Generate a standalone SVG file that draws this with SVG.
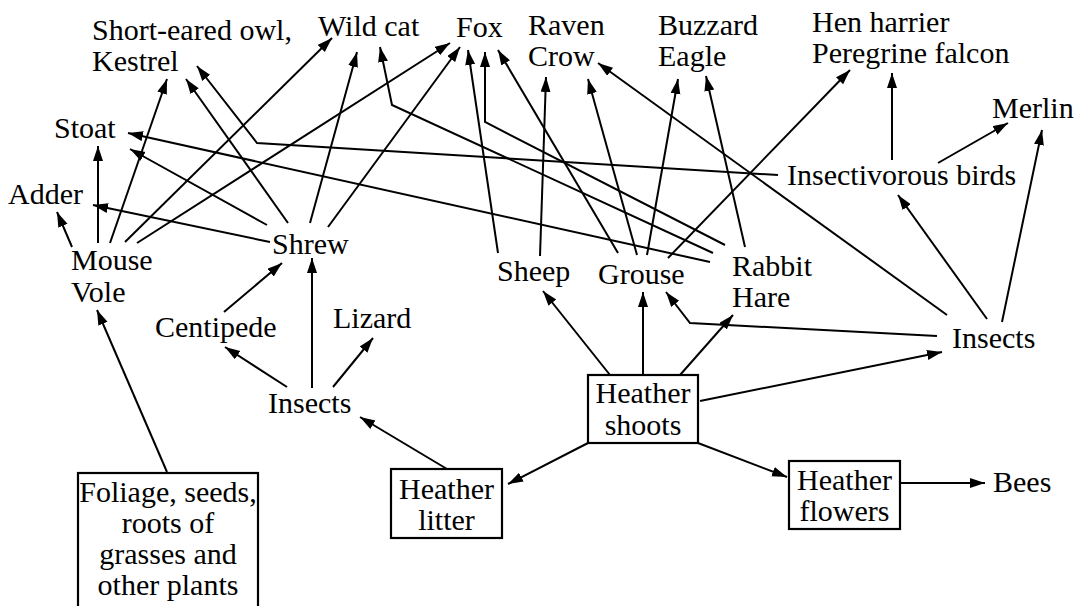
<svg xmlns="http://www.w3.org/2000/svg" width="1075" height="606" viewBox="0 0 1075 606">
<style>
text{font-family:'Liberation Serif','Times New Roman',serif;font-size:30px;fill:#000}
.c{text-anchor:middle}
.box{fill:#fff;stroke:#000;stroke-width:2.2}
#connectors path{fill:none;stroke:#000;stroke-width:2;marker-end:url(#arr)}
</style>
<defs>
<marker id="arr" markerUnits="userSpaceOnUse" markerWidth="16" markerHeight="11" refX="15" refY="5" orient="auto">
<path d="M0,0 L15,5 L0,10 z" fill="#000"/>
</marker>
</defs>
<rect width="1075" height="606" fill="#fff"/>
<g id="connectors">
<path d="M167,472 L97,310"/>
<path d="M72,247 L57,212"/>
<path d="M98,243 L98,146"/>
<path d="M110,243 L167,79"/>
<path d="M125,242 L332,38"/>
<path d="M137,243 L450,43"/>
<path d="M270,242 L93,205"/>
<path d="M267,225 L130,149"/>
<path d="M288,223 L186,79"/>
<path d="M310,223 L357,52"/>
<path d="M328,227 L460,47"/>
<path d="M224,312 L282,263"/>
<path d="M287,387 L225,347"/>
<path d="M312,388 L312,258"/>
<path d="M333,387 L373,338"/>
<path d="M447,469 L360,417"/>
<path d="M588,443 L508,484"/>
<path d="M698,443 L787,477"/>
<path d="M900,483 L985,483"/>
<path d="M610,375 L543,291"/>
<path d="M643,375 L643,292"/>
<path d="M680,375 L733,315"/>
<path d="M700,401 L942,352"/>
<path d="M937,336 L690,323 L666,292"/>
<path d="M947,315 L598,63"/>
<path d="M987,319 L898,195"/>
<path d="M1002,322 L1042,130"/>
<path d="M938,163 L1008,123"/>
<path d="M892,160 L892,73"/>
<path d="M778,175 L257,143 L197,66"/>
<path d="M498,253 L468,50"/>
<path d="M540,256 L546,77"/>
<path d="M618,253 L498,50"/>
<path d="M637,255 L588,79"/>
<path d="M647,255 L678,79"/>
<path d="M668,258 L850,70"/>
<path d="M745,247 L706,76"/>
<path d="M710,262 L128,133"/>
<path d="M713,253 L392,105 L380,47"/>
<path d="M725,245 L485,122 L485,52"/>
</g>
<g id="n-owl"><text x="92" y="40">Short-eared owl,</text><text x="92" y="71">Kestrel</text></g>
<g id="n-wildcat"><text x="318" y="36">Wild cat</text></g>
<g id="n-fox"><text x="456" y="37">Fox</text></g>
<g id="n-raven"><text x="528" y="35">Raven</text><text x="528" y="66">Crow</text></g>
<g id="n-buzzard"><text x="658" y="35">Buzzard</text><text x="658" y="66">Eagle</text></g>
<g id="n-harrier"><text x="812" y="32">Hen harrier</text><text x="812" y="63">Peregrine falcon</text></g>
<g id="n-merlin"><text x="992" y="118">Merlin</text></g>
<g id="n-insectivorous"><text x="787" y="185">Insectivorous birds</text></g>
<g id="n-stoat"><text x="54" y="138">Stoat</text></g>
<g id="n-adder"><text x="8" y="204">Adder</text></g>
<g id="n-shrew"><text x="272" y="254">Shrew</text></g>
<g id="n-mouse"><text x="71" y="270">Mouse</text><text x="71" y="302">Vole</text></g>
<g id="n-centipede"><text x="155" y="337">Centipede</text></g>
<g id="n-lizard"><text x="333" y="328">Lizard</text></g>
<g id="n-sheep"><text x="497" y="281">Sheep</text></g>
<g id="n-grouse"><text x="598" y="284">Grouse</text></g>
<g id="n-rabbit"><text x="732" y="276">Rabbit</text><text x="732" y="307">Hare</text></g>
<g id="n-insects-r"><text x="952" y="348">Insects</text></g>
<g id="n-insects-l"><text x="268" y="413">Insects</text></g>
<g id="n-shoots"><rect class="box" x="588" y="375" width="110" height="68"/><text class="c" x="643" y="403">Heather</text><text class="c" x="643" y="435">shoots</text></g>
<g id="n-litter"><rect class="box" x="391" y="469" width="111" height="69"/><text class="c" x="446.5" y="499">Heather</text><text class="c" x="446.5" y="530">litter</text></g>
<g id="n-flowers"><rect class="box" x="789" y="461" width="111" height="68"/><text class="c" x="844.5" y="490">Heather</text><text class="c" x="844.5" y="521">flowers</text></g>
<g id="n-bees"><text x="993" y="492">Bees</text></g>
<g id="n-foliage"><rect class="box" x="78" y="473" width="180" height="150"/><text class="c" x="168" y="502">Foliage, seeds,</text><text class="c" x="168" y="533">roots of</text><text class="c" x="168" y="564">grasses and</text><text class="c" x="168" y="595">other plants</text></g>
</svg>
